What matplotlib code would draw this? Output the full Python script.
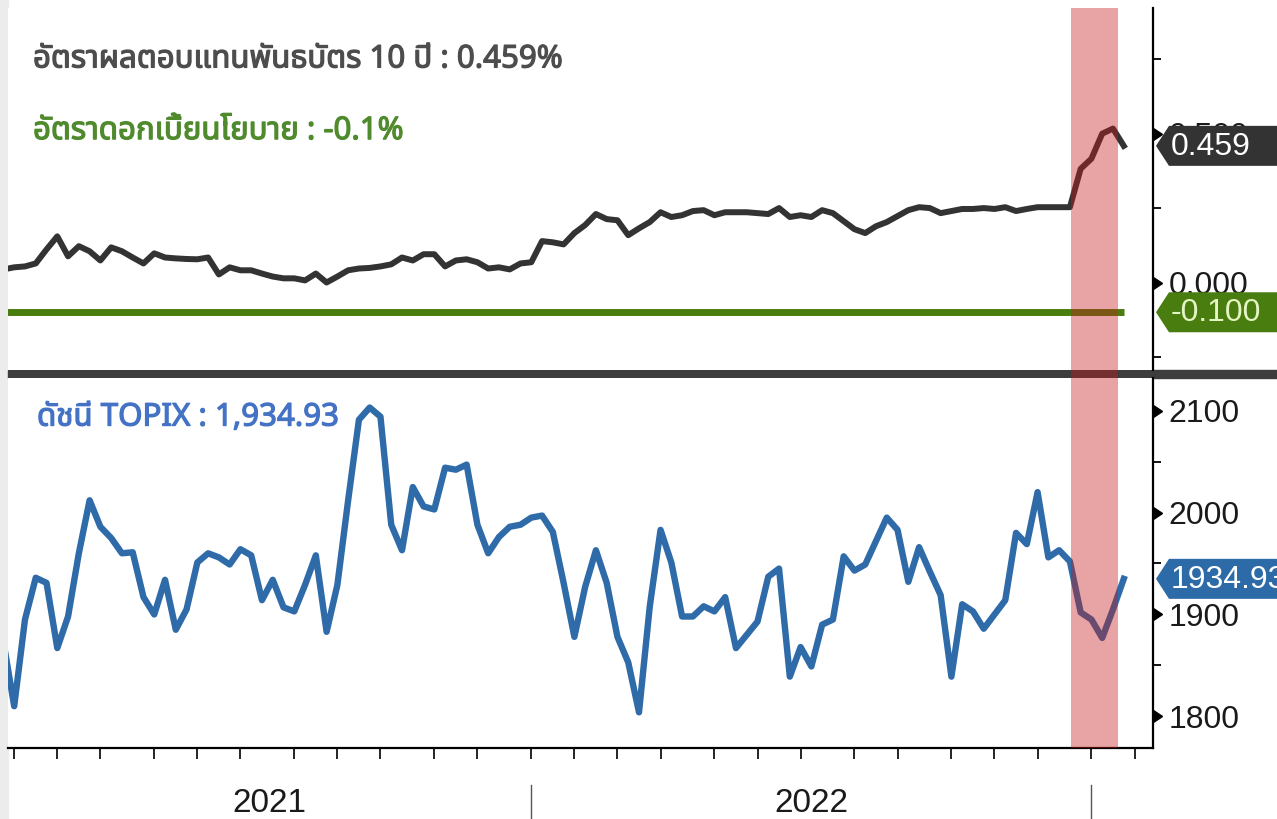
import numpy as np
import pandas as pd
import matplotlib
matplotlib.use("Agg")
import matplotlib.pyplot as plt
from matplotlib import font_manager, transforms, patheffects
from matplotlib.patches import Polygon, Rectangle
from matplotlib.ft2font import FT2Font

# weekly data, 29 Jan 2021 .. 27 Jan 2023
dates = pd.date_range("2021-01-29", periods=105, freq="7D")

yield_10y = [0.044, 0.051, 0.054, 0.064, 0.111, 0.155, 0.088, 0.122, 0.105, 0.074,
             0.118, 0.105, 0.084, 0.064, 0.098, 0.084, 0.081, 0.079, 0.078, 0.084,
             0.027, 0.051, 0.041, 0.041, 0.030, 0.020, 0.014, 0.014, 0.007, 0.030,
             0.000, 0.020, 0.041, 0.047, 0.049, 0.054, 0.061, 0.084, 0.074, 0.095,
             0.095, 0.054, 0.074, 0.078, 0.068, 0.047, 0.051, 0.044, 0.064, 0.068,
             0.139, 0.135, 0.128, 0.166, 0.193, 0.230, 0.213, 0.209, 0.159, 0.182,
             0.203, 0.236, 0.220, 0.226, 0.240, 0.243, 0.226, 0.236, 0.236, 0.236,
             0.233, 0.230, 0.250, 0.220, 0.226, 0.220, 0.243, 0.233, 0.206, 0.179,
             0.166, 0.189, 0.203, 0.223, 0.243, 0.253, 0.250, 0.233, 0.240, 0.247,
             0.247, 0.250, 0.247, 0.253, 0.240, 0.247, 0.253, 0.253, 0.253, 0.253,
             0.382, 0.416, 0.500, 0.517, 0.459]

topix = [1873, 1810, 1895, 1936, 1931, 1867, 1898, 1960, 2012, 1986,
         1975, 1960, 1961, 1917, 1900, 1934, 1885, 1905, 1951, 1960,
         1956, 1949, 1964, 1958, 1914, 1934, 1907, 1903, 1929, 1958,
         1883, 1929, 2012, 2091, 2103, 2094, 1988, 1963, 2025, 2006,
         2003, 2044, 2042, 2047, 1988, 1960, 1976, 1986, 1988, 1995,
         1997, 1981, 1931, 1878, 1927, 1963, 1931, 1878, 1853, 1804,
         1908, 1983, 1951, 1898, 1898, 1908, 1903, 1917, 1867, 1880,
         1893, 1937, 1945, 1839, 1868, 1849, 1890, 1895, 1957, 1943,
         1949, 1972, 1995, 1983, 1932, 1966, 1942, 1919, 1839, 1910,
         1903, 1886, 1900, 1914, 1980, 1969, 2020, 1956, 1963, 1952,
         1902, 1895, 1877, 1905, 1934.93]

policy_rate = -0.1
band = (pd.Timestamp("2022-12-24"), pd.Timestamp("2023-01-23"))

title_yield = "อัตราผลตอบแทนพันธบัตร 10 ปี : 0.459%"
title_policy = "อัตราดอกเบี้ยนโยบาย : -0.1%"
title_topix = "ดัชนี TOPIX : 1,934.93"


def find_thai_font():
    preferred = ["Noto Sans Thai", "Noto Sans Thai UI", "Kanit", "Prompt", "Sarabun",
                 "Noto Sans Thai Looped", "Loma", "Garuda", "Umpush", "Waree", "Norasi", "Kinnari"]
    found = {}
    for f in font_manager.fontManager.ttflist:
        try:
            if 0x0E2D in FT2Font(f.fname).get_charmap():
                found.setdefault(f.name, f.fname)
        except Exception:
            pass
    for name in preferred:
        if name in found:
            return name
    return next(iter(found), "DejaVu Sans")


thai_font = find_thai_font()
plt.rcParams["font.family"] = ["Liberation Sans", "DejaVu Sans"]

fig = plt.figure(figsize=(12.77, 8.19), dpi=100)
fig.patch.set_facecolor("white")
ax1 = fig.add_axes([0.0063, 0.5482, 0.8966, 0.4420])
ax2 = fig.add_axes([0.0063, 0.0867, 0.8966, 0.4518], sharex=ax1)

# left grey strip and the dark splitter between the panels
fig.add_artist(Rectangle((0, 0), 0.0063, 1, transform=fig.transFigure,
                         color="#ececec", zorder=-2))
fig.add_artist(Rectangle((0.0063, 1 - 378 / 819), 1, 8 / 819, transform=fig.transFigure,
                         color="#3d3d3d", zorder=-1))

# lines
ax1.plot(dates, yield_10y, color="#333333", lw=4.3, solid_joinstyle="round", zorder=3)
ax1.hlines(policy_rate, dates[0], dates[-1], color="#4a7d10", lw=5, zorder=3)
ax2.plot(dates, topix, color="#2e6ba8", lw=4.6, solid_joinstyle="round", zorder=3)

shade = (198 / 255, 28 / 255, 28 / 255)
ax1.axvspan(band[0], band[1], ymin=-0.025, ymax=1, color=shade, alpha=0.4, lw=0,
            zorder=4, clip_on=False)
ax2.axvspan(band[0], band[1], color=shade, alpha=0.4, lw=0, zorder=4)

ax1.set_xlim(pd.Timestamp("2021-02-01"), pd.Timestamp("2023-02-15"))
ax1.set_ylim(-0.294, 0.922)
ax2.set_ylim(1769, 2132)

# month ticks at the first weekly point of every month
fridays = pd.date_range("2021-01-29", "2023-02-17", freq="W-FRI")
month_ticks = pd.Series(fridays).groupby(fridays.to_period("M")).first()
month_ticks = month_ticks[month_ticks >= pd.Timestamp("2021-02-01")]
ax2.set_xticks(list(month_ticks))
ax2.tick_params(axis="x", length=8, width=1.2, direction="out", color="black",
                labelbottom=False)
ax1.tick_params(axis="x", bottom=False, labelbottom=False)

for ax, major, minor, fmt in [
    (ax1, [0.0, 0.5], [-0.25, 0.25, 0.75], "{x:.3f}"),
    (ax2, [1800, 1900, 2000, 2100], [1850, 1950, 2050], "{x:.0f}"),
]:
    ax.yaxis.tick_right()
    ax.set_yticks(major)
    ax.set_yticks(minor, minor=True)
    ax.yaxis.set_major_formatter(fmt)
    ax.tick_params(axis="y", which="major", length=10, width=1, direction="out",
                   pad=1, labelsize=23, labelcolor="#1a1a1a")
    ax.tick_params(axis="y", which="minor", length=6, width=1.3, direction="out")
    for t in ax.yaxis.get_major_ticks():
        t.tick2line.set_marker(9)
        t.tick2line.set_markersize(9)
    for s in ["top", "left"]:
        ax.spines[s].set_visible(False)
    ax.spines["right"].set_linewidth(1.6)
ax1.spines["bottom"].set_visible(False)
ax2.spines["bottom"].set_linewidth(1.6)

# year labels and separators under the axis
years = [d for d in month_ticks if d.month == 1]
bounds = [pd.Timestamp("2021-02-01")] + years
for d in years:
    ax2.plot([d, d], [-0.1, -0.2], transform=ax2.get_xaxis_transform(),
             color="#555555", lw=1, clip_on=False)
for a, b, lab in zip(bounds[:-1], bounds[1:], ["2021", "2022"]):
    ax2.text(a + (b - a) / 2, -0.149, lab, transform=ax2.get_xaxis_transform(),
             ha="center", va="center", fontsize=24, color="#1a1a1a")


def value_tag(ax, y, text, face, txt):
    offset = transforms.ScaledTranslation(1.0, y, ax.get_yaxis_transform())
    trans = fig.dpi_scale_trans + offset
    ax.add_patch(Polygon([(0.03, 0), (0.16, 0.2), (1.4, 0.2), (1.4, -0.2), (0.16, -0.2)],
                         closed=True, transform=trans, facecolor=face,
                         edgecolor="none", clip_on=False, zorder=6))
    ax.text(0.18, -0.01, text, transform=trans, ha="left", va="center",
            fontsize=23, color=txt, zorder=7, clip_on=False)


value_tag(ax1, yield_10y[-1], f"{yield_10y[-1]:.3f}", "#333333", "white")
value_tag(ax1, policy_rate, f"{policy_rate:.3f}", "#4a7d10", "#e4f5c4")
value_tag(ax2, topix[-1], f"{topix[-1]:.2f}", "#2d6aa8", "white")


def title(ax, x, y, text, color):
    ax.text(x, y, text, transform=ax.transAxes, color=color, fontsize=22.5,
            family=[thai_font, "DejaVu Sans"], ha="left", va="center",
            path_effects=[patheffects.withStroke(linewidth=0.9, foreground=color)])


title(ax1, 0.0218, 0.858, title_yield, "#4d4d4d")
title(ax1, 0.0218, 0.660, title_policy, "#4f8a2c")
title(ax2, 0.0253, 0.893, title_topix, "#4472c4")

fig.savefig("out.png", dpi=100, facecolor=fig.get_facecolor())
